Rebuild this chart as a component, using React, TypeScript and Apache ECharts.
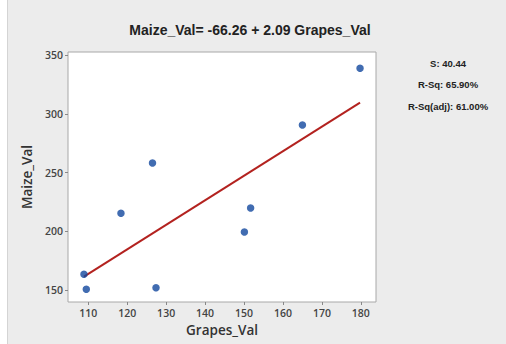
import React, { useEffect, useRef } from "react";
import * as echarts from "echarts";

const grapesVal = [108.9, 109.5, 118.4, 126.5, 127.4, 150.1, 151.7, 165.0, 179.8];
const maizeVal = [163.4, 150.6, 215.3, 258.1, 152.0, 199.4, 219.8, 290.4, 338.7];
const intercept = -66.26;
const slope = 2.09;
const xTicks = [110, 120, 130, 140, 150, 160, 170, 180];
const yTicks = [150, 200, 250, 300, 350];
const titleText = "Maize_Val= -66.26 + 2.09 Grapes_Val";
const statsLines = ["S: 40.44", "R-Sq: 65.90%", "R-Sq(adj): 61.00%"];

export default function App() {
  const ref = useRef<HTMLDivElement>(null);
  useEffect(() => {
    if (!ref.current) return;
    const chart = echarts.init(ref.current, null, { renderer: "svg" });
    const xMin = Math.min(...grapesVal);
    const xMax = Math.max(...grapesVal);
    const fit = [
      [xMin, intercept + slope * xMin],
      [xMax, intercept + slope * xMax],
    ];
    const tickFont = { fontFamily: "Open Sans", fontWeight: 600, fontSize: 10.5, color: "#444" };
    chart.setOption({
      animation: false,
      backgroundColor: "#ececec",
      grid: {
        left: 68, top: 52, width: 308, height: 250,
        show: true, backgroundColor: "#ffffff", borderColor: "#a8a8a8", borderWidth: 1,
      },
      xAxis: {
        type: "value", min: 104.8, max: 183.9,
        name: "Grapes_Val", nameLocation: "middle", nameGap: 18,
        nameTextStyle: { fontFamily: "Open Sans", fontWeight: 600, fontSize: 13.5, color: "#333" },
        axisLine: { show: false },
        splitLine: { show: false },
        axisTick: { show: true, length: 3, customValues: xTicks, lineStyle: { color: "#888" } },
        axisLabel: { ...tickFont, margin: 5, customValues: xTicks },
      },
      yAxis: {
        type: "value", min: 139.8, max: 352.6,
        name: "Maize_Val", nameLocation: "middle", nameGap: 31,
        nameTextStyle: { fontFamily: "Open Sans", fontWeight: 600, fontSize: 13.5, color: "#333" },
        axisLine: { show: false },
        splitLine: { show: false },
        axisTick: { show: true, length: 3, customValues: yTicks, lineStyle: { color: "#888" } },
        axisLabel: { ...tickFont, margin: 5, customValues: yTicks },
      },
      graphic: [
        { type: "rect", left: 0, top: 0, shape: { width: 7, height: 344 }, style: { fill: "#ffffff" } },
        { type: "line", shape: { x1: 7.5, y1: 0, x2: 7.5, y2: 344 }, style: { stroke: "#d4d4d4", lineWidth: 1 } },
        {
          type: "text", x: 250, y: 30,
          style: {
            text: titleText, align: "center", verticalAlign: "middle",
            font: "bold 14px 'Liberation Sans', Arial, sans-serif", fill: "#222",
          },
        },
        ...statsLines.map((t, i) => ({
          type: "text", x: 448, y: 63 + i * 21.8,
          style: {
            text: t, align: "center", verticalAlign: "middle",
            font: "bold 9.5px 'Liberation Sans', Arial, sans-serif", fill: "#222",
          },
        })),
      ],
      series: [
        {
          type: "line", data: fit, symbol: "none", silent: true,
          lineStyle: { color: "#b3221f", width: 2 }, z: 2,
        },
        {
          type: "scatter", data: grapesVal.map((x, i) => [x, maizeVal[i]]),
          symbol: "circle", symbolSize: 7.5,
          itemStyle: { color: "#12479e" }, z: 3,
        },
      ],
    });
    return () => chart.dispose();
  }, []);
  return <div ref={ref} style={{ position: "fixed", left: 0, top: 0, width: 506, height: 344 }} />;
}
